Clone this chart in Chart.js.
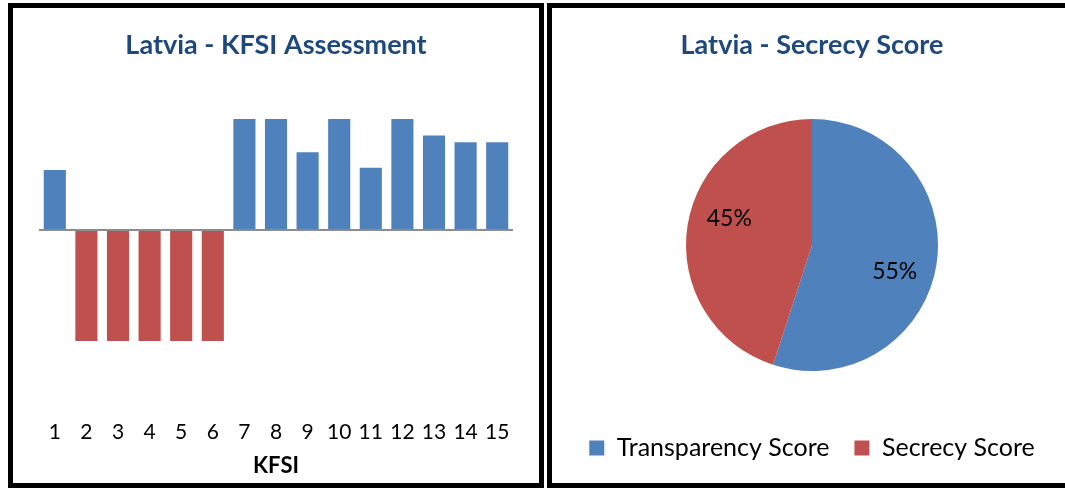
<!DOCTYPE html>
<html><head><meta charset="utf-8">
<script src="https://cdn.jsdelivr.net/npm/chart.js@4/dist/chart.umd.min.js"></script>
<style>
html,body{margin:0;padding:0;background:#fff;width:1065px;height:488px;overflow:hidden;}
.box{position:absolute;box-sizing:border-box;border:5px solid #000;}
#b1{left:8px;top:3px;width:536px;height:485px;}
#b2{left:547px;top:3px;width:530px;height:485px;}
#w1{position:absolute;left:13px;top:8px;width:526px;height:476px;}
#w2{position:absolute;left:552px;top:8px;width:513px;height:476px;}
</style></head><body>
<div class="box" id="b1"></div><div class="box" id="b2"></div>
<div id="w1"><canvas id="c1"></canvas></div>
<div id="w2"><canvas id="c2"></canvas></div>
<script>
// ---- data ----
const kfsiLabels = ['1','2','3','4','5','6','7','8','9','10','11','12','13','14','15'];
const kfsiValues = [0.54,-1,-1,-1,-1,-1,1,1,0.70,1,0.56,1,0.85,0.79,0.79];
const pieLabels = ['Transparency Score','Secrecy Score'];
const pieValues = [55,45];

const BLUE = '#4F81BD', RED = '#C0504D', TITLE = '#1F497D';
Chart.defaults.font.family = 'Lato';
Chart.defaults.color = '#000';

new Chart(document.getElementById('c1'), {
  type: 'bar',
  data: {
    labels: kfsiLabels,
    datasets: [{
      data: kfsiValues,
      backgroundColor: ctx => (ctx.raw < 0 ? RED : BLUE),
      borderWidth: 0,
      categoryPercentage: 0.7,
      barPercentage: 1.0
    }]
  },
  options: {
    responsive: true, maintainAspectRatio: false, animation: false, devicePixelRatio: 1,
    layout: { padding: { left: 26, right: 26, top: 0, bottom: 0 } },
    plugins: {
      legend: { display: false },
      tooltip: { enabled: false },
      title: { display: true, text: 'Latvia - KFSI Assessment', color: TITLE,
        font: { size: 27, weight: 'bold', lineHeight: 1.2 }, padding: { top: 20.8, bottom: 7.8 } }
    },
    scales: {
      x: {
        grid: { display: false, drawTicks: true, tickLength: 28.4 }, border: { display: false },
        ticks: { font: { size: 21, lineHeight: 1.2 }, padding: 0, color: '#000', maxRotation: 0, autoSkip: false },
        title: { display: true, text: 'KFSI', font: { size: 22, weight: 'bold', lineHeight: 1.2 }, color: '#000',
          padding: { top: 8.2, bottom: 4.8 } }
      },
      y: {
        min: -1.45, max: 1.45,
        ticks: { display: false, stepSize: 0.5 },
        border: { display: false },
        grid: { drawTicks: false, lineWidth: 2,
          color: ctx => (ctx.tick && ctx.tick.value === 0 ? '#8C8C8C' : 'rgba(0,0,0,0)') }
      }
    }
  }
});

const pieLabelPlugin = {
  id: 'pieLabels',
  afterDatasetsDraw(chart) {
    const ctx = chart.ctx;
    const meta = chart.getDatasetMeta(0);
    ctx.save();
    ctx.font = '23px Lato';
    ctx.fillStyle = '#000';
    ctx.textAlign = 'center';
    ctx.textBaseline = 'middle';
    meta.data.forEach((arc, i) => {
      const p = arc.getProps(['x', 'y', 'startAngle', 'endAngle', 'outerRadius'], true);
      const a = (p.startAngle + p.endAngle) / 2 + 9 * Math.PI / 180;
      const r = p.outerRadius * 0.69;
      ctx.fillText(pieValues[i] + '%', p.x + Math.cos(a) * r, p.y + Math.sin(a) * r);
    });
    ctx.restore();
  }
};

new Chart(document.getElementById('c2'), {
  type: 'pie',
  data: {
    labels: pieLabels,
    datasets: [{ data: pieValues, backgroundColor: [BLUE, RED], borderWidth: 0 }]
  },
  options: {
    responsive: true, maintainAspectRatio: false, animation: false, devicePixelRatio: 1,
    radius: 126,
    layout: { padding: { left: 7, right: 0, top: 0, bottom: 13.5 } },
    plugins: {
      tooltip: { enabled: false },
      title: { display: true, text: 'Latvia - Secrecy Score', color: TITLE,
        font: { size: 27, weight: 'bold', lineHeight: 1.2 }, padding: { top: 20.8, bottom: 18.3 } },
      legend: {
        position: 'bottom',
        labels: { boxWidth: 15, boxHeight: 15, padding: 25, color: '#000', font: { size: 25 } }
      }
    }
  },
  plugins: [pieLabelPlugin]
});
</script>
</body></html>
